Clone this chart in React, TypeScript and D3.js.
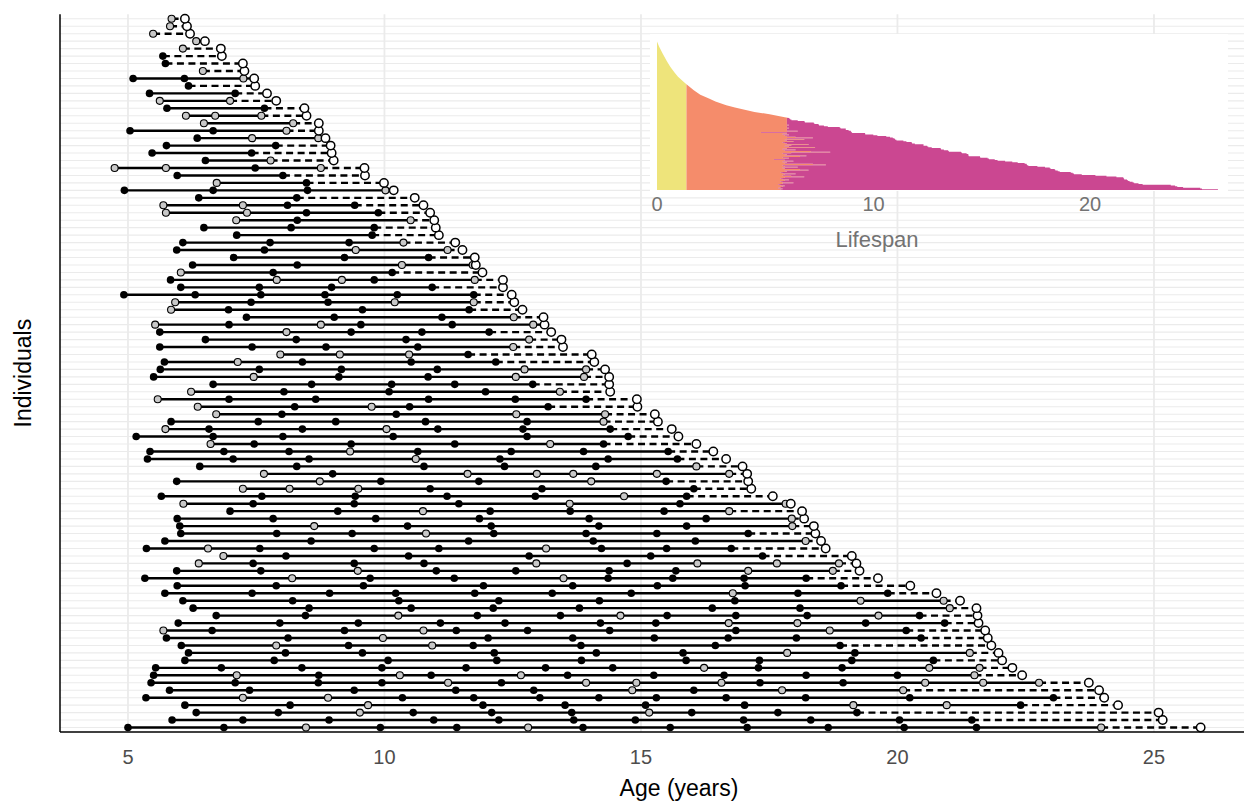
import React from "react";
import * as d3 from "d3";

// Main chart: one row per individual, row 0 = bottom (longest lived)
const deathAge: number[] = [
  25.91, 25.17, 25.09, 24.3, 24.03, 23.93, 23.73, 22.43, 22.24, 22.04,
  21.97, 21.83, 21.76, 21.71, 21.58, 21.56, 21.54, 21.22, 20.76, 20.25,
  19.62, 19.26, 19.2, 19.11, 18.6, 18.51, 18.4, 18.37, 18.18, 18.14,
  17.92, 17.57, 17.15, 17.09, 17.07, 16.98, 16.66, 16.41, 16.08, 15.73,
  15.6, 15.33, 15.27, 14.93, 14.92, 14.4, 14.38, 14.38, 14.3, 14.09,
  14.04, 13.48, 13.45, 13.25, 13.12, 13.1, 12.69, 12.53, 12.48, 12.31,
  12.31, 11.91, 11.78, 11.76, 11.52, 11.38, 11.06, 11.0, 10.97, 10.89,
  10.76, 10.59, 10.18, 9.99, 9.62, 9.61, 9.01, 8.97, 8.95, 8.85,
  8.72, 8.72, 8.48, 8.44, 7.89, 7.71, 7.48, 7.46, 7.27, 7.24,
  6.83, 6.81, 6.5, 6.21, 6.15, 6.11,
];

// observations drawn as filled black points
const filledAges: number[][] = [
  [5.0, 6.87, 9.92, 11.41, 13.87, 15.57, 17.07, 18.65, 20.13, 21.54],
  [5.86, 7.24, 8.92, 10.96, 12.23, 13.69, 14.89, 17.0, 18.31, 20.04, 21.45],
  [6.33, 7.93, 10.56, 12.09, 13.65, 15.99, 17.67, 19.21],
  [6.11, 8.16, 11.92, 13.52, 15.09, 17.02, 22.4],
  [5.35, 10.35, 11.74, 13.03, 14.18, 15.3, 16.66, 18.21, 20.24, 23.04],
  [5.81, 7.37, 9.41, 11.39, 12.91, 16.03],
  [5.45, 7.09, 8.71, 9.95, 12.28, 17.32, 18.94],
  [5.5, 8.72, 10.91, 13.57, 15.25, 16.62, 18.22, 20.0],
  [5.54, 6.82, 8.39, 9.95, 11.59, 13.14, 14.45, 17.29, 18.92],
  [6.11, 7.85, 10.07, 12.19, 13.84, 15.88, 17.31, 19.11, 20.7],
  [6.18, 8.07, 9.57, 12.14, 14.13, 15.82, 19.17],
  [6.04, 9.3, 11.73, 13.83, 16.45, 18.88],
  [5.75, 8.12, 12.02, 13.67, 15.26, 16.7, 18.03, 20.46],
  [6.64, 9.22, 11.4, 12.79, 14.39, 16.85, 20.17],
  [5.98, 7.96, 9.49, 11.09, 12.35, 14.21, 15.29, 19.38, 20.92],
  [6.72, 8.46, 11.81, 13.43, 15.51, 16.85, 18.24, 20.43],
  [6.27, 8.53, 10.52, 12.12, 13.8, 16.39, 18.1],
  [6.07, 8.21, 10.28, 12.23, 14.19, 16.83],
  [5.72, 7.42, 8.93, 10.22, 11.76, 13.27, 14.81, 18.06, 19.81],
  [5.96, 7.89, 9.59, 11.93, 13.67, 15.32, 17.03, 18.9],
  [5.33, 9.72, 11.36, 14.36, 15.62, 17.01, 18.22],
  [5.95, 7.59, 11.01, 12.56, 14.38, 15.68],
  [7.44, 9.41, 10.77, 14.73],
  [8.08, 10.47, 12.82, 15.19, 17.37],
  [5.36, 7.57, 9.8, 11.06, 14.23, 15.5, 16.76],
  [5.72, 8.57, 11.64, 14.07, 16.06],
  [6.03, 7.9, 9.37, 12.13, 13.93, 15.31, 17.09],
  [6.01, 10.45, 12.08, 14.18, 15.89],
  [5.96, 7.83, 9.83, 11.85, 13.99, 16.27],
  [6.99, 9.09, 12.06, 13.62, 15.45],
  [7.44, 9.41, 11.45, 15.76],
  [5.65, 7.61, 9.43, 11.22, 12.94, 15.89],
  [10.89, 13.07, 16.03],
  [5.95, 9.93, 11.84, 15.49],
  [8.99],
  [6.4, 8.29, 10.77, 12.34, 14.12],
  [5.38, 7.05, 8.53, 12.25, 14.36, 15.71],
  [5.43, 6.87, 8.14, 10.65, 12.47, 13.88, 15.53],
  [7.46, 9.35, 11.37, 14.27],
  [5.16, 6.66, 8.02, 10.17, 12.78, 14.75],
  [6.58, 8.4, 11.04, 12.7, 14.4],
  [5.84, 7.54, 9.05, 10.8, 12.78],
  [8.0, 10.23],
  [8.25, 10.49, 13.19],
  [6.97, 8.66, 10.86, 12.55, 13.93],
  [8.04, 10.09, 11.97],
  [6.66, 8.58, 10.14, 11.37, 12.89],
  [5.5, 9.11, 10.85],
  [5.63, 7.56, 9.16, 11.03],
  [5.71, 8.4, 10.52, 12.17],
  [11.63],
  [5.62, 7.42, 8.86, 10.65],
  [6.51, 8.28, 10.42],
  [5.62, 9.35, 10.73, 12.04],
  [6.97, 9.54, 11.32],
  [7.31, 9.02, 11.12],
  [6.96, 9.57, 11.65],
  [7.4, 8.9],
  [4.92, 6.31, 7.59, 8.84, 10.25, 11.74],
  [6.03, 7.56, 8.97, 10.93],
  [5.83, 9.8],
  [7.83, 10.15],
  [6.26, 8.3],
  [7.06, 9.22, 10.86],
  [5.95, 7.66],
  [6.07, 7.77, 9.31],
  [7.12, 9.76],
  [6.48, 8.18, 9.8],
  [8.3],
  [8.48, 9.88],
  [8.11, 9.42],
  [6.38, 8.29],
  [4.93, 6.66, 8.5],
  [8.48],
  [5.96, 8.02],
  [7.48],
  [6.51],
  [5.47, 7.41],
  [5.75, 7.88],
  [6.35],
  [5.04, 6.66],
  [],
  [],
  [5.76, 7.66],
  [],
  [5.42, 7.09],
  [6.18],
  [5.1, 6.1],
  [],
  [5.73],
  [5.68],
  [],
  [],
  [],
  [],
  [],
];

// observations drawn as open grey points
const openAges: number[][] = [
  [8.47, 12.8, 23.97],
  [],
  [9.52, 15.16],
  [9.68, 19.14, 20.96],
  [7.24, 8.9],
  [14.83, 17.75, 20.11],
  [11.24, 13.93, 14.91, 16.57, 20.54, 21.67, 22.76],
  [7.12, 10.3, 12.66, 21.5],
  [16.23, 20.62, 21.6],
  [],
  [17.85, 21.41],
  [7.89, 10.93],
  [9.97],
  [5.69, 10.76, 18.68],
  [16.71, 18.05],
  [10.27, 14.6, 19.63],
  [21.02],
  [19.28, 20.9],
  [16.79],
  [],
  [8.2, 13.49],
  [9.48, 17.09, 18.74],
  [6.38, 12.96, 16.1, 17.65, 18.86],
  [6.86],
  [6.56, 13.15],
  [18.21],
  [10.81],
  [8.63, 17.95],
  [17.94],
  [10.75, 16.72],
  [6.08, 13.61, 17.82],
  [14.67],
  [7.24, 8.15, 9.49],
  [8.74, 14.03],
  [7.65, 11.62, 12.97, 13.68, 15.31, 16.72],
  [16.08],
  [10.61],
  [9.33],
  [6.61, 13.23],
  [],
  [5.73, 10.04],
  [14.27],
  [6.72, 12.57, 14.3],
  [6.36, 9.75],
  [5.58],
  [6.23, 13.42],
  [],
  [7.45, 12.56, 13.89],
  [12.73, 13.93],
  [7.14],
  [7.97, 9.13, 10.48],
  [12.51],
  [12.82],
  [8.09],
  [5.53, 8.76, 12.9],
  [12.52],
  [5.84],
  [5.92, 10.2, 11.74],
  [],
  [],
  [7.9, 9.17, 11.76],
  [6.03],
  [10.34, 11.72],
  [],
  [9.44, 11.23],
  [10.37],
  [],
  [],
  [7.11, 10.51],
  [5.74, 7.32],
  [5.69, 7.24],
  [],
  [10.02],
  [6.73],
  [],
  [4.74, 5.74, 8.76],
  [7.78],
  [],
  [],
  [7.42, 8.71],
  [8.09],
  [6.48, 8.22],
  [6.13, 6.7, 7.6],
  [],
  [5.62, 6.99],
  [],
  [],
  [7.25],
  [6.46],
  [],
  [],
  [6.07],
  [6.33],
  [5.49],
  [5.82],
  [5.85],
];

const ageTicks: number[] = [5, 10, 15, 20, 25];

// Inset: lifespan of all individuals (stacked horizontal bars)
const juvenileEnd = 1.36;
const insetMaturity: number[] = [
  5.7, 5.8, 5.6, 5.7, 5.8, 5.9, 5.7, 5.6, 5.8, 6.3,
  5.8, 5.7, 5.9, 6.1, 5.8, 5.7, 5.9, 6.8, 6.2, 5.8,
  5.9, 6.4, 5.8, 5.7, 6.0, 5.9, 7.0, 6.6, 5.9, 5.8,
  6.5, 5.9, 5.8, 7.8, 7.2, 5.9, 6.0, 5.8, 6.3, 5.9,
  5.4, 5.9, 6.1, 5.8, 6.6, 6.9, 5.9, 6.0, 5.8, 6.2,
  8.0, 7.1, 5.9, 6.4, 5.8, 6.0, 7.3, 6.1, 5.9, 6.2,
  7.0, 6.0, 5.9, 5.8, 6.3, 6.0, 5.9, 6.8, 6.0, 7.2,
  6.4, 6.0, 5.9, 6.1, 5.8, 6.0, 4.8, 6.0, 6.5, 6.0,
  6.0, 6.0, 6.1, 6.0, 6.0, 6.0, 6.1, 6.0, 6.0, 6.0,
  6.0, 6.0, 6.0, 6.0, 6.0, 6.0,
];
// outline of the short-lived individuals (age, number still alive)
const shortAges: number[] = [0, 0.1, 0.26, 0.45, 0.62, 0.8, 0.97, 1.2, 1.36, 1.7, 2.0, 2.4, 2.7, 3.2, 3.6, 4.5, 5.2, 5.9, 6.1];
const shortCounts: number[] = [198, 191, 182, 172, 164, 157, 151, 145, 141, 133, 127, 122, 118, 113, 110, 104, 101, 97, 96];
const insetTicks: number[] = [0, 10, 20];

const YELLOW = "#EEE47B";
const ORANGE = "#F58C6B";
const MAGENTA = "#CB4791";

export default function App() {
  const W = 1244;
  const H = 802;
  const left = 60;
  const top = 14.3;
  const bottom = 732;
  const n = deathAge.length;

  const x = d3.scaleLinear().domain([3.675, 26.755]).range([left, W]);
  const y = d3.scaleLinear().domain([-0.6, n - 1 + 0.6]).range([bottom, top]);

  const xI = d3.scaleLinear().domain([0, 10]).range([657, 873.5]);
  const yI = d3.scaleLinear().domain([0, 198]).range([190, 41.5]);

  type AP = { c: number; m: number; l: number };
  const adultPts: AP[] = deathAge.flatMap((l, i) => [
    { c: i, m: insetMaturity[i], l },
    { c: i + 1, m: insetMaturity[i], l },
  ]);
  const vArea = (x0: (d: AP) => number, x1: (d: AP) => number) =>
    d3.area<AP>().y((d) => yI(d.c)).x0(x0).x1(x1)(adultPts) || "";

  const yellowAdult = vArea(() => xI(0), () => xI(juvenileEnd));
  const orangeAdult = vArea(() => xI(juvenileEnd), (d) => xI(d.m));
  const magentaAdult = vArea((d) => xI(d.m), (d) => xI(d.l));

  type SP = { a: number; c: number };
  const shortPts: SP[] = shortAges.map((a, i) => ({ a, c: shortCounts[i] }));
  const shortArea = d3
    .area<SP>()
    .x((d) => xI(d.a))
    .y0(yI(n))
    .y1((d) => yI(d.c));
  const yellowShort = shortArea(shortPts.filter((d) => d.a <= juvenileEnd)) || "";
  const orangeShort = shortArea(shortPts.filter((d) => d.a >= juvenileEnd)) || "";

  const rows = deathAge.map((d, i) => {
    const obs = [...filledAges[i], ...openAges[i]];
    const first = d3.min(obs) as number;
    const last = d3.max(obs) as number;
    return { i, d, first, last };
  });

  const font = "'Liberation Sans', Arial, Helvetica, sans-serif";

  return (
    <svg
      width={W}
      height={H}
      style={{ position: "absolute", left: 0, top: 0, display: "block", background: "#fff" }}
      fontFamily={font}
    >
      <rect x={0} y={0} width={W} height={H} fill="#fff" />
      {/* gridlines */}
      {deathAge.map((_, i) => (
        <line key={"hg" + i} x1={left} x2={W} y1={y(i)} y2={y(i)} stroke="#EBEBEB" strokeWidth={1.1} />
      ))}
      {ageTicks.map((t) => (
        <line key={"vg" + t} x1={x(t)} x2={x(t)} y1={top} y2={bottom} stroke="#EBEBEB" strokeWidth={1.8} />
      ))}

      {/* inset */}
      <rect x={650} y={34} width={578} height={157} fill="#fff" />
      <path d={yellowAdult} fill={YELLOW} />
      <path d={orangeAdult} fill={ORANGE} />
      <path d={magentaAdult} fill={MAGENTA} />
      <path d={yellowShort} fill={YELLOW} />
      <path d={orangeShort} fill={ORANGE} />
      {insetTicks.map((t) => (
        <text key={"it" + t} x={xI(t)} y={211} fontSize={20} fill="#737373" textAnchor="middle">
          {t}
        </text>
      ))}
      <text x={877} y={247} fontSize={22} fill="#737373" textAnchor="middle">
        Lifespan
      </text>

      {/* lifelines */}
      {rows.map((r) => (
        <g key={"l" + r.i}>
          <line x1={x(r.first)} x2={x(r.last)} y1={y(r.i)} y2={y(r.i)} stroke="#000" strokeWidth={2.4} />
          <line
            x1={x(r.last)}
            x2={x(r.d)}
            y1={y(r.i)}
            y2={y(r.i)}
            stroke="#000"
            strokeWidth={2.4}
            strokeDasharray="7 4.5"
          />
        </g>
      ))}
      {/* observations */}
      {openAges.map((arr, i) =>
        arr.map((a, j) => (
          <circle key={"o" + i + "_" + j} cx={x(a)} cy={y(i)} r={3.5} fill="#C8C8C8" stroke="#000" strokeWidth={1.1} />
        ))
      )}
      {filledAges.map((arr, i) =>
        arr.map((a, j) => <circle key={"f" + i + "_" + j} cx={x(a)} cy={y(i)} r={3.8} fill="#000" />)
      )}
      {deathAge.map((d, i) => (
        <circle key={"d" + i} cx={x(d)} cy={y(i)} r={4.2} fill="#fff" stroke="#000" strokeWidth={1.5} />
      ))}

      {/* axes */}
      <line x1={left} x2={left} y1={top} y2={bottom} stroke="#000" strokeWidth={1.5} />
      <line x1={left} x2={W} y1={bottom} y2={bottom} stroke="#000" strokeWidth={1.5} />
      {ageTicks.map((t) => (
        <text key={"xt" + t} x={x(t)} y={764} fontSize={20} fill="#4D4D4D" textAnchor="middle">
          {t}
        </text>
      ))}
      <text x={(left + W) / 2 + 27} y={796} fontSize={23} fill="#000" textAnchor="middle">
        Age (years)
      </text>
      <text transform={`translate(31, ${(top + bottom) / 2}) rotate(-90)`} fontSize={23} fill="#000" textAnchor="middle">
        Individuals
      </text>
    </svg>
  );
}
